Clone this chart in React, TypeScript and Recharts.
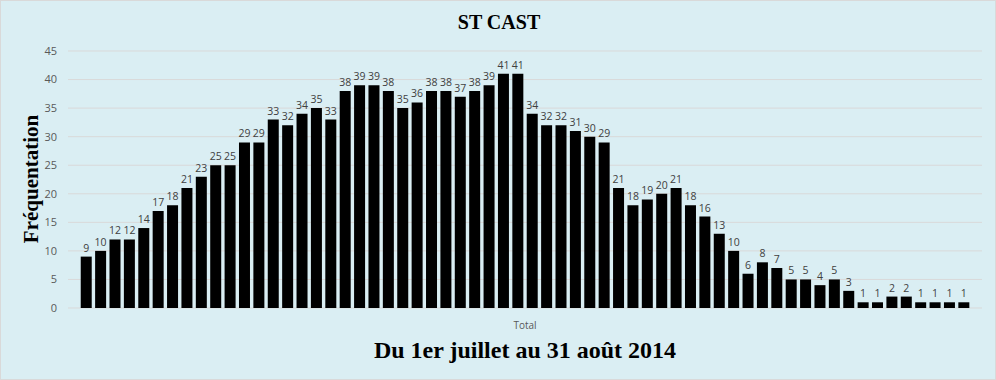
import React from "react";
import { BarChart, Bar, XAxis, YAxis, CartesianGrid, LabelList } from "recharts";

// one bar per day, 1 July -> 31 August 2014
const days: string[] = [
  ...Array.from({ length: 31 }, (_, i) => `${i + 1}/07`),
  ...Array.from({ length: 31 }, (_, i) => `${i + 1}/08`),
];

const visits: number[] = [
  9, 10, 12, 12, 14, 17, 18, 21, 23, 25,
  25, 29, 29, 33, 32, 34, 35, 33, 38, 39,
  39, 38, 35, 36, 38, 38, 37, 38, 39, 41,
  41, 34, 32, 32, 31, 30, 29, 21, 18, 19,
  20, 21, 18, 16, 13, 10, 6, 8, 7, 5,
  5, 4, 5, 3, 1, 1, 2, 2, 1, 1,
  1, 1,
];

const yTicks = [0, 5, 10, 15, 20, 25, 30, 35, 40, 45];

const chartTitle = "ST CAST";
const yTitle = "Fréquentation";
const bottomTitle = "Du 1er juillet au 31 août 2014";
const categoryLabel = "Total";

const data = days.map((d, i) => ({ day: d, total: visits[i] }));

const serif = "'Liberation Serif', 'Times New Roman', serif";
const sans = "'Open Sans', 'Noto Sans', sans-serif";

const App: React.FC = () => {
  return (
    <div
      style={{
        position: "fixed",
        left: 0,
        top: 0,
        width: 996,
        height: 380,
        background: "#daeef3",
        border: "1px solid #d9d9d9",
        boxSizing: "border-box",
        overflow: "hidden",
      }}
    >
      <div
        style={{
          position: "absolute",
          left: 0,
          width: 996,
          top: 9,
          textAlign: "center",
          fontFamily: serif,
          fontWeight: "bold",
          fontSize: 20,
          lineHeight: "24px",
        }}
      >
        {chartTitle}
      </div>

      <div
        style={{
          position: "absolute",
          left: 30,
          top: 178,
          transform: "translate(-50%, -50%) rotate(-90deg)",
          fontFamily: serif,
          fontWeight: "bold",
          fontSize: 21,
          whiteSpace: "nowrap",
        }}
      >
        {yTitle}
      </div>

      {/* category name under the single Excel category */}
      <div
        style={{
          position: "absolute",
          left: 0,
          width: 1048,
          top: 317,
          textAlign: "center",
          fontFamily: sans,
          fontSize: 10,
          color: "#595959",
        }}
      >
        {categoryLabel}
      </div>

      <div
        style={{
          position: "absolute",
          left: 0,
          width: 1048,
          top: 335,
          textAlign: "center",
          fontFamily: serif,
          fontWeight: "bold",
          fontSize: 24,
          lineHeight: "28px",
        }}
      >
        {bottomTitle}
      </div>

      <div style={{ position: "absolute", left: -1, top: -1 }}>
        <BarChart
          width={996}
          height={380}
          data={data}
          margin={{ top: 51, right: 14, bottom: 72, left: 8 }}
          barCategoryGap="12%"
        >
          <CartesianGrid vertical={false} stroke="#d9d9d9" />
          <XAxis
            dataKey="day"
            tick={false}
            tickLine={false}
            axisLine={false}
            height={0}
            padding={{ left: 11, right: 11 }}
          />
          <YAxis
            width={60}
            domain={[0, 45]}
            ticks={yTicks}
            tickLine={false}
            axisLine={false}
            tickSize={0}
            tickMargin={11}
            tick={{ fill: "#595959", fontSize: 11, fontFamily: sans }}
          />
          <Bar dataKey="total" fill="#000000" isAnimationActive={false}>
            <LabelList
              dataKey="total"
              position="top"
              offset={5}
              fill="#404040"
              fontSize={10.5}
              fontFamily={sans}
            />
          </Bar>
        </BarChart>
      </div>
    </div>
  );
};

export default App;
